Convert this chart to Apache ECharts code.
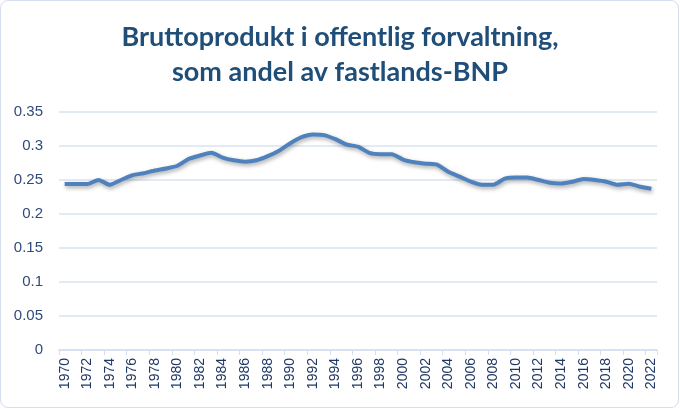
<!DOCTYPE html>
<html><head><meta charset="utf-8">
<script src="https://cdn.jsdelivr.net/npm/echarts@6/dist/echarts.min.js"></script>
<style>
html,body{margin:0;padding:0;background:#fff;}
#wrap{position:absolute;left:0;top:0;width:677px;height:406px;border:1.5px solid #D3DFEE;border-radius:8px;}
#c{width:680px;height:409px;position:absolute;left:0;top:0;}
</style></head>
<body>
<div id="wrap"></div>
<div id="c"></div>
<script>
var years = [];
for (var y = 1970; y <= 2022; y++) years.push(String(y));
var values = [
0.244,0.244,0.244,0.250,0.243,0.250,0.257,0.260,0.264,0.267,
0.271,0.281,0.286,0.290,0.283,0.279,0.277,0.279,0.285,0.293,
0.304,0.313,0.317,0.316,0.310,0.302,0.299,0.290,0.288,0.288,
0.280,0.276,0.274,0.2725,0.262,0.255,0.2475,0.243,0.243,0.252,
0.2535,0.2535,0.250,0.246,0.245,0.2475,0.2515,0.250,0.2475,0.243,
0.2445,0.240,0.237
];
var titleText = "Bruttoprodukt i offentlig forvaltning,\nsom andel av fastlands-BNP";
var chart = echarts.init(document.getElementById('c'));
chart.setOption({
  backgroundColor: 'transparent',
  animation: false,
  title: {
    text: titleText, left: 'center', top: 15,
    textStyle: {fontFamily: 'Lato', fontWeight: 'bold', fontSize: 27, color: '#1F4E79', lineHeight: 35}
  },
  grid: {left: 59, right: 23, top: 112, bottom: 59},
  xAxis: {
    type: 'category', data: years, boundaryGap: true,
    axisLine: {lineStyle: {color: '#D3DFEE', width: 1.5}},
    axisTick: {show: true, alignWithLabel: false, length: 5, lineStyle: {color: '#D3DFEE'}},
    axisLabel: {interval: 1, rotate: 90, color: '#1F3864', fontFamily: 'Liberation Sans', fontSize: 14, margin: 8}
  },
  yAxis: {
    type: 'value', min: 0, max: 0.35, interval: 0.05,
    axisLine: {show: false}, axisTick: {show: false},
    splitLine: {lineStyle: {color: '#D9E4F2', width: 1.5}},
    axisLabel: {color: '#2F4B7C', fontFamily: 'Liberation Sans', fontSize: 15, margin: 16,
      formatter: function(v){ return String(+v.toFixed(2)); }}
  },
  series: [{
    type: 'line', data: values, showSymbol: false, smooth: 0.2,
    lineStyle: {color: '#4F81BD', width: 4, shadowColor: 'rgba(0,0,0,0.35)', shadowBlur: 4, shadowOffsetY: 2, shadowOffsetX: 1}
  }]
});
</script>
</body></html>
